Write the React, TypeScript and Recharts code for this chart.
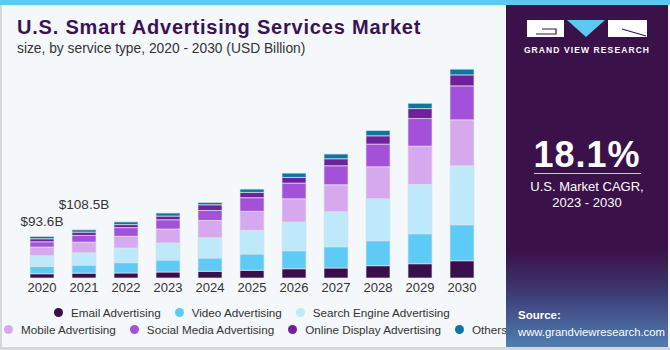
import React from 'react';
import { BarChart, Bar, XAxis, YAxis, LabelList } from 'recharts';

const years = ['2020', '2021', '2022', '2023', '2024', '2025', '2026', '2027', '2028', '2029', '2030'];
const email = [9.6, 11.0, 11.3, 13.5, 15.1, 17.3, 20.9, 22.5, 27.7, 32.2, 38.9];
const video = [16.4, 18.0, 23.2, 27.0, 29.9, 36.7, 40.5, 47.9, 56.3, 67.5, 81.0];
const search = [24.1, 27.7, 33.1, 38.3, 45.7, 53.3, 64.6, 78.8, 94.5, 110.9, 132.8];
const mobile = [19.6, 24.1, 26.3, 31.5, 38.9, 42.8, 52.4, 60.8, 72.0, 86.2, 103.5];
const social = [11.9, 15.1, 19.6, 20.9, 22.5, 30.8, 35.3, 42.8, 51.1, 62.3, 76.5];
const online = [6.8, 7.4, 6.8, 8.3, 12.8, 11.9, 12.8, 15.8, 18.7, 22.5, 24.8];
const others = [5.2, 5.2, 6.1, 6.8, 5.2, 7.4, 9.7, 10.6, 11.9, 11.9, 12.8];
const totalLabels = ['$93.6B', '$108.5B', '', '', '', '', '', '', '', '', ''];

const series = [
  { key: 'email', name: 'Email Advertising', color: '#380f4b', values: email },
  { key: 'video', name: 'Video Advertising', color: '#5ecbf6', values: video },
  { key: 'search', name: 'Search Engine Advertising', color: '#bde9fa', values: search },
  { key: 'mobile', name: 'Mobile Advertising', color: '#d6a9ee', values: mobile },
  { key: 'social', name: 'Social Media Advertising', color: '#a451d9', values: social },
  { key: 'online', name: 'Online Display Advertising', color: '#6f219d', values: online },
  { key: 'others', name: 'Others', color: '#0b779f', values: others },
];

const data = years.map((year, i) => {
  const row: Record<string, string | number> = { year, label: totalLabels[i] };
  series.forEach((s) => {
    row[s.key] = s.values[i];
  });
  return row;
});

const FONT = '"Liberation Sans", Arial, sans-serif';

const TotalLabel = (props: any) => {
  const { x, y, width, value, index } = props;
  if (!value) return null;
  const lift = index === 0 ? 10 : 21;
  return (
    <text
      x={x + width / 2}
      y={y - lift}
      textAnchor="middle"
      fill="#333"
      fontSize={13.5}
      fontFamily={FONT}
    >
      {value}
    </text>
  );
};

const LegendItem = ({ name, color }: { name: string; color: string }) => (
  <span style={{ display: 'inline-flex', alignItems: 'center', marginRight: 14 }}>
    <span
      style={{
        width: 9,
        height: 9,
        borderRadius: '50%',
        background: color,
        display: 'inline-block',
        marginRight: 8,
      }}
    />
    {name}
  </span>
);

const App: React.FC = () => {
  return (
    <div
      style={{
        position: 'absolute',
        left: 0,
        top: 0,
        width: 670,
        height: 350,
        background: '#f4f8fb',
        fontFamily: FONT,
        overflow: 'hidden',
      }}
    >
      {/* top strip */}
      <div style={{ position: 'absolute', left: 0, top: 0, width: 670, height: 5, background: '#5cc9f0' }} />
      {/* frame */}
      <div style={{ position: 'absolute', left: 0, top: 5, width: 2, height: 345, background: '#d4d7db' }} />
      <div style={{ position: 'absolute', left: 0, top: 347, width: 670, height: 3, background: '#d4d7db' }} />

      <div
        style={{
          position: 'absolute',
          left: 17,
          top: 16,
          fontSize: 20,
          fontWeight: 900,
          letterSpacing: 0.8,
          color: '#3a1452',
          whiteSpace: 'nowrap',
        }}
      >
        U.S. Smart Advertising Services Market
      </div>
      <div
        style={{
          position: 'absolute',
          left: 17,
          top: 41,
          fontSize: 13.8,
          color: '#333',
          whiteSpace: 'nowrap',
        }}
      >
        size, by service type, 2020 - 2030 (USD Billion)
      </div>

      <div style={{ position: 'absolute', left: 0, top: 0 }}>
        <BarChart width={506} height={350} data={data} margin={{ top: 56, right: 23, bottom: 52, left: 21 }}>
          <XAxis
            dataKey="year"
            axisLine={false}
            tickLine={false}
            tickSize={0}
            tickMargin={5}
            height={20}
            interval={0}
            tick={{ fill: '#333', fontSize: 13, fontFamily: FONT }}
          />
          <YAxis hide domain={[0, 500]} />
          {series.map((s) => (
            <Bar
              key={s.key}
              dataKey={s.key}
              name={s.name}
              stackId="a"
              fill={s.color}
              stroke="#dfe3ea"
              strokeWidth={0.7}
              barSize={24}
              isAnimationActive={false}
            >
              {s.key === 'others' && <LabelList dataKey="label" content={TotalLabel} />}
            </Bar>
          ))}
        </BarChart>
      </div>

      {/* legend */}
      <div
        style={{
          position: 'absolute',
          left: 0,
          top: 304,
          width: 506,
          fontSize: 11.7,
          color: '#333',
          lineHeight: '17px',
        }}
      >
        <div style={{ paddingLeft: 54, whiteSpace: 'nowrap' }}>
          {series.slice(0, 3).map((s) => (
            <LegendItem key={s.key} name={s.name} color={s.color} />
          ))}
        </div>
        <div style={{ paddingLeft: 4, whiteSpace: 'nowrap' }}>
          {series.slice(3).map((s) => (
            <LegendItem key={s.key} name={s.name} color={s.color} />
          ))}
        </div>
      </div>

      {/* right panel */}
      <div
        style={{
          position: 'absolute',
          left: 506,
          top: 5,
          width: 162,
          height: 342,
          background: 'linear-gradient(180deg, #3a1149 0%, #3a1149 72%, #3d3a72 84%, #4f7fb4 100%)',
          color: '#fff',
        }}
      >
        <svg width={162} height={60} style={{ position: 'absolute', left: 0, top: 0 }}>
          <rect x={21} y={15} width={37} height={17} fill="#fff" />
          <path d="M36 24 H50 V29 H30" stroke="#3a1149" strokeWidth={1.2} fill="none" />
          <polygon points="61,15 99,15 80,32" fill="#5cc9f0" />
          <rect x={102} y={15} width={39} height={17} fill="#fff" />
          <path d="M116 24 L140 31" stroke="#3a1149" strokeWidth={1.2} />
        </svg>
        <div
          style={{
            position: 'absolute',
            left: 0,
            top: 40,
            width: 162,
            textAlign: 'center',
            fontSize: 8.5,
            fontWeight: 'bold',
            letterSpacing: 1.1,
          }}
        >
          GRAND VIEW RESEARCH
        </div>
        <div
          style={{
            position: 'absolute',
            left: 0,
            top: 129,
            width: 162,
            textAlign: 'center',
            fontSize: 36,
            fontWeight: 'bold',
            letterSpacing: 1,
          }}
        >
          18.1%
        </div>
        <div style={{ position: 'absolute', left: 28, top: 168, width: 107, height: 1, background: '#cfc6d6' }} />
        <div
          style={{
            position: 'absolute',
            left: 0,
            top: 174,
            width: 162,
            textAlign: 'center',
            fontSize: 13,
            lineHeight: '16px',
          }}
        >
          U.S. Market CAGR,
          <br />
          2023 - 2030
        </div>
        <div style={{ position: 'absolute', left: 12, top: 303, fontSize: 11.5, lineHeight: '14px', fontWeight: 'bold' }}>
          Source:
        </div>
        <div style={{ position: 'absolute', left: 12, top: 320, fontSize: 11.3, lineHeight: '14px' }}>
          www.grandviewresearch.com
        </div>
      </div>
    </div>
  );
};

export default App;
